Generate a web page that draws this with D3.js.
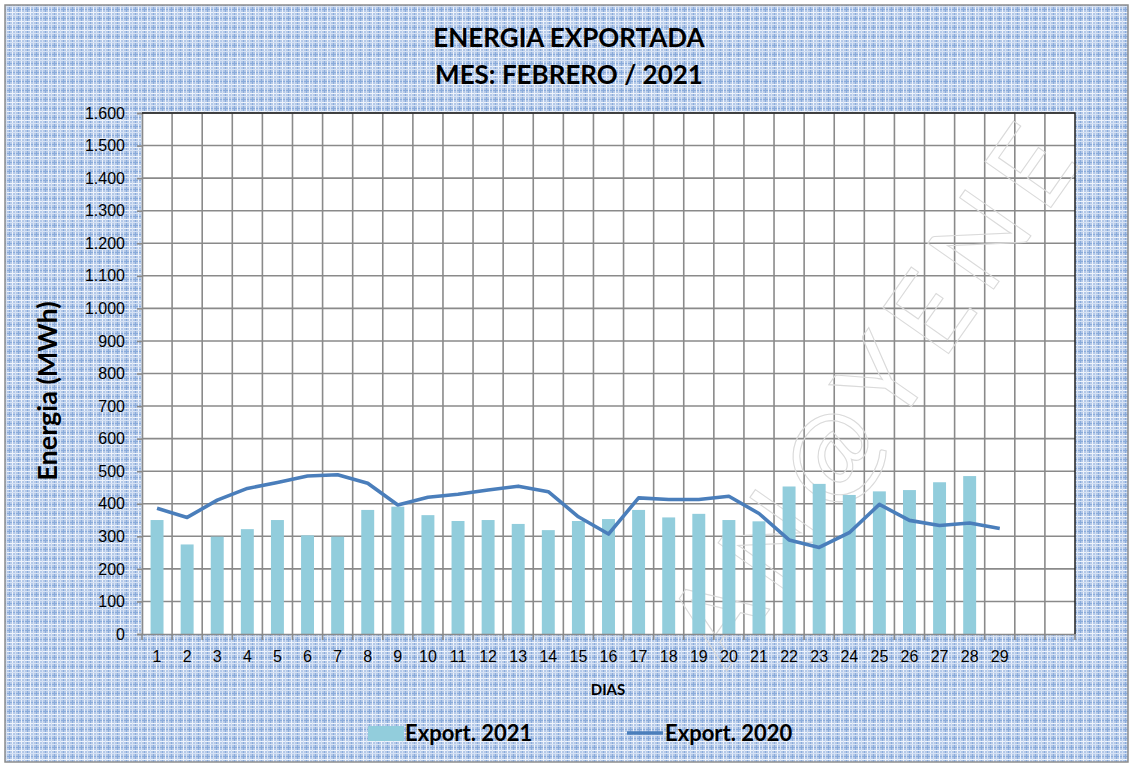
<!DOCTYPE html>
<html>
<head>
<meta charset="utf-8">
<script src="https://cdn.jsdelivr.net/npm/d3@7"></script>
<style>
  body { margin: 0; background: #fff; }
  svg { display: block; font-family: Lato, "Open Sans", sans-serif; }
</style>
</head>
<body>
<div id="chart"></div>
<script>
// days on the x axis (31 slots, last two unlabeled)
const dayLabels = ["1","2","3","4","5","6","7","8","9","10","11","12","13","14","15","16","17","18","19","20","21","22","23","24","25","26","27","28","29","30","31"]
const tickText = ["1","2","3","4","5","6","7","8","9","10","11","12","13","14","15","16","17","18","19","20","21","22","23","24","25","26","27","28","29","",""]

// MWh
const export2021 = [350,275,299,322,350,303,299,381,391,365,347,350,338,319,347,353,381,358,369,350,346,453,461,427,438,442,466,485]
const export2020 = [386,358,411,447,465,485,489,463,396,420,429,442,454,437,360,307,418,413,413,423,370,289,266,311,398,349,333,341,324]

const yTicks = [0,100,200,300,400,500,600,700,800,900,1000,1100,1200,1300,1400,1500,1600]

const width = 1133, height = 763
const margin = {left: 142, right: 58, top: 113, bottom: 129}

const svg = d3.select("#chart").append("svg")
    .attr("width", width).attr("height", height)

// plaid-ish background like the excel chart area
const defs = svg.append("defs")
const pat = defs.append("pattern").attr("id","plaid")
    .attr("width", 9).attr("height", 9).attr("patternUnits","userSpaceOnUse")
pat.append("rect").attr("width",9).attr("height",9).attr("fill","#b3c8e8")
pat.append("rect").attr("x",0).attr("y",0).attr("width",9).attr("height",1).attr("fill","#8aabda")
pat.append("rect").attr("x",0).attr("y",0).attr("width",1).attr("height",9).attr("fill","#8aabda")
pat.append("rect").attr("x",3).attr("y",0).attr("width",1).attr("height",9).attr("fill","#eef3fb")
pat.append("rect").attr("x",0).attr("y",3).attr("width",9).attr("height",1).attr("fill","#eef3fb")
pat.append("rect").attr("x",6).attr("y",0).attr("width",1).attr("height",9).attr("fill","#d6e2f4")
pat.append("rect").attr("x",0).attr("y",6).attr("width",9).attr("height",1).attr("fill","#d6e2f4")

svg.append("rect").attr("x",5).attr("y",5).attr("width",width-10).attr("height",height-6)
    .attr("fill","url(#plaid)").attr("stroke","#8c8c8c").attr("stroke-width",1.5)

const x = d3.scaleBand().domain(dayLabels).range([margin.left, width - margin.right])
const y = d3.scaleLinear().domain([0,1600]).range([height - margin.bottom, margin.top])

// plot area
svg.append("rect")
    .attr("x", margin.left).attr("y", margin.top)
    .attr("width", width - margin.left - margin.right)
    .attr("height", height - margin.top - margin.bottom)
    .attr("fill", "#fff")

// gridlines
svg.append("g").selectAll("line").data(yTicks.slice(1)).join("line")
    .attr("x1", margin.left).attr("x2", width - margin.right)
    .attr("y1", d => y(d)).attr("y2", d => y(d))
    .attr("stroke", "#8a8a8a").attr("stroke-width", 1.6)
const bounds = dayLabels.map(d => x(d)).concat([width - margin.right])
svg.append("g").selectAll("line").data(bounds.slice(1, -1)).join("line")
    .attr("x1", d => d).attr("x2", d => d)
    .attr("y1", margin.top).attr("y2", height - margin.bottom)
    .attr("stroke", "#8a8a8a").attr("stroke-width", 1.6)

// watermark
svg.append("text")
    .attr("transform", "translate(885,395) rotate(-55)")
    .attr("text-anchor", "middle").attr("dominant-baseline", "middle")
    .style("font-size", "112px").style("letter-spacing", "14px")
    .attr("fill", "none").attr("stroke", "#dadada").attr("stroke-width", 1.1)
    .text("AN@YENE")

// bars
const bw = x.bandwidth() * 0.43
svg.append("g").selectAll("rect").data(export2021).join("rect")
    .attr("x", (d,i) => x(dayLabels[i]) + (x.bandwidth() - bw) / 2)
    .attr("y", d => y(d))
    .attr("width", bw)
    .attr("height", d => y(0) - y(d))
    .attr("fill", "#92cddc")

// line
const line = d3.line()
    .x((d,i) => x(dayLabels[i]) + x.bandwidth() / 2)
    .y(d => y(d))
svg.append("path").datum(export2020)
    .attr("d", line)
    .attr("fill", "none")
    .attr("stroke", "#4a7ebb")
    .attr("stroke-width", 3.6)
    .attr("stroke-linejoin", "round")

// axes
const yAxis = d3.axisLeft(y).tickValues(yTicks).tickSize(5).tickPadding(12)
    .tickFormat(d => d3.format(",")(d).replace(/,/g, "."))
const gy = svg.append("g").attr("transform", `translate(${margin.left},0)`).call(yAxis)
gy.select(".domain").attr("stroke", "#8a8a8a").attr("stroke-width", 1.6)
gy.selectAll(".tick line").attr("stroke", "#8a8a8a").attr("stroke-width", 1.6)
gy.selectAll("text").style("font-size", "16px").attr("fill", "#000")

const xAxis = d3.axisBottom(x).tickFormat((d,i) => tickText[i]).tickSize(0).tickPadding(17)
const gx = svg.append("g").attr("transform", `translate(0,${y(0)})`).call(xAxis)
gx.select(".domain").attr("stroke", "#8a8a8a").attr("stroke-width", 1.6)
gx.selectAll("text").style("font-size", "16px").attr("fill", "#000")
// tick marks sit between categories
svg.append("g").selectAll("line").data(bounds).join("line")
    .attr("x1", d => d).attr("x2", d => d)
    .attr("y1", y(0)).attr("y2", y(0) + 6)
    .attr("stroke", "#8a8a8a").attr("stroke-width", 1.6)

// dark top/right border of plot
svg.append("path")
    .attr("d", `M${margin.left},${margin.top}H${width - margin.right}V${height - margin.bottom}`)
    .attr("fill", "none").attr("stroke", "#222").attr("stroke-width", 1.5)

// titles
const title = svg.append("text").attr("text-anchor", "middle")
    .style("font-size", "26px").style("font-weight", "bold")
title.append("tspan").attr("x", 569).attr("y", 47).text("ENERGIA EXPORTADA")
title.append("tspan").attr("x", 569).attr("y", 84).text("MES: FEBRERO / 2021")

svg.append("text")
    .attr("transform", "translate(57,391) rotate(-90)")
    .attr("text-anchor", "middle")
    .style("font-size", "27px").style("font-weight", "bold")
    .text("Energia (MWh)")

svg.append("text").attr("x", 608).attr("y", 695).attr("text-anchor", "middle")
    .style("font-size", "15px").style("font-weight", "bold")
    .text("DIAS")

// legend
const leg = svg.append("g")
leg.append("rect").attr("x", 368).attr("y", 726).attr("width", 36).attr("height", 15).attr("fill", "#92cddc")
leg.append("text").attr("x", 405).attr("y", 741).style("font-size", "22px").style("font-weight", "bold")
    .text("Export. 2021")
leg.append("line").attr("x1", 627).attr("x2", 663).attr("y1", 733).attr("y2", 733)
    .attr("stroke", "#4a7ebb").attr("stroke-width", 3.6)
leg.append("text").attr("x", 665).attr("y", 741).style("font-size", "22px").style("font-weight", "bold")
    .text("Export. 2020")
</script>
</body>
</html>
